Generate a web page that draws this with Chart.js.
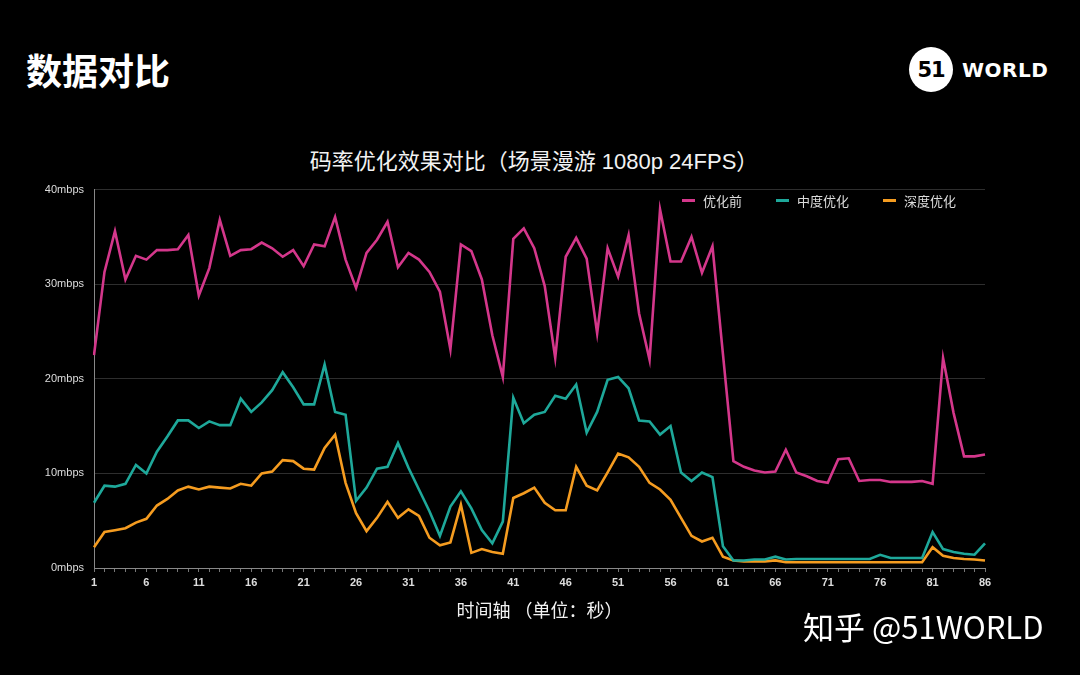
<!DOCTYPE html>
<html>
<head>
<meta charset="utf-8">
<script src="https://cdn.jsdelivr.net/npm/chart.js@4"></script>
<style>
  html, body { margin: 0; padding: 0; background: #000; }
  body { width: 1080px; height: 675px; position: relative; overflow: hidden;
         font-family: "Noto Sans CJK SC", "Noto Sans", sans-serif; color: #fff; }
  #head { position: absolute; left: 26px; top: 43px; font-size: 36px; font-weight: bold; }
  #logo { position: absolute; left: 909px; top: 47px; height: 45px; display: flex; align-items: center; }
  #logo .c { width: 44px; height: 45px; border-radius: 50%; background: #fff; color: #000;
             font-family: "DejaVu Sans"; font-weight: bold; font-size: 21px;
             display: flex; align-items: center; justify-content: center; letter-spacing: -1px; }
  #logo .w { margin-left: 9px; font-family: "DejaVu Sans"; font-weight: bold; font-size: 20px; letter-spacing: 0.5px; }
  #title { position: absolute; top: 143px; left: 0; width: 1068px; text-align: center;
           font-family: "Liberation Sans", "Noto Sans CJK SC"; font-size: 22px; color: #f2f2f2; }
  #box { position: absolute; left: 0; top: 173px; width: 1080px; height: 452px; }
  #legend { position: absolute; top: 191px; left: 682px; display: flex; font-size: 13px; color: #ddd; }
  #legend span { display: flex; align-items: center; margin-right: 34px; }
  #legend i { display: inline-block; width: 13px; height: 3px; margin-right: 8px; }
  #mark { position: absolute; left: 803px; top: 603px; font-size: 31px; color: #fff; }
</style>
</head>
<body>
<div id="head">数据对比</div>
<div id="logo"><div class="c">51</div><div class="w">WORLD</div></div>
<div id="title">码率优化效果对比（场景漫游 1080p 24FPS）</div>
<div id="box"><canvas id="myChart"></canvas></div>
<div id="legend"></div>
<div id="mark">知乎 @51WORLD</div>
<script>
const seconds = [];
for (let i = 1; i <= 86; i++) seconds.push(String(i));

const seriesNames = ['优化前', '中度优化', '深度优化'];
const seriesColors = ['#d4378b', '#1ea89a', '#f59c20'];

const before = [22.5, 31.3, 35.6, 30.5, 33.0, 32.6, 33.6, 33.6, 33.7, 35.2,
  28.8, 31.7, 36.8, 33.0, 33.6, 33.7, 34.4, 33.8, 32.9, 33.6,
  31.9, 34.2, 34.0, 37.1, 32.6, 29.6, 33.3, 34.7, 36.6, 31.8,
  33.3, 32.6, 31.3, 29.2, 23.1, 34.2, 33.5, 30.5, 24.6, 20.2,
  34.8, 35.9, 33.8, 29.8, 22.2, 32.9, 34.9, 32.7, 24.8, 33.8,
  30.8, 35.2, 26.9, 22.0, 37.9, 32.4, 32.4, 35.0, 31.2, 34.0,
  22.6, 11.3, 10.7, 10.3, 10.1, 10.2, 12.5, 10.1, 9.7, 9.2,
  9.0, 11.5, 11.6, 9.2, 9.3, 9.3, 9.1, 9.1, 9.1, 9.2,
  8.9, 22.2, 16.4, 11.8, 11.8, 12.0];

const medium = [6.9, 8.7, 8.6, 8.9, 10.9, 10.0, 12.3, 13.9, 15.6, 15.6,
  14.8, 15.5, 15.1, 15.1, 17.9, 16.5, 17.5, 18.8, 20.7, 19.1,
  17.3, 17.3, 21.5, 16.5, 16.2, 7.1, 8.5, 10.5, 10.7, 13.2,
  10.6, 8.3, 6.0, 3.4, 6.5, 8.1, 6.3, 4.0, 2.6, 4.9,
  18.0, 15.3, 16.2, 16.5, 18.2, 17.9, 19.4, 14.3, 16.5, 19.9,
  20.2, 19.0, 15.6, 15.5, 14.1, 15.0, 10.1, 9.2, 10.1, 9.6,
  2.3, 0.8, 0.8, 0.9, 0.9, 1.2, 0.9, 0.95, 0.95, 0.95,
  0.95, 0.95, 0.95, 0.95, 0.95, 1.4, 1.05, 1.05, 1.05, 1.05,
  3.8, 2.0, 1.7, 1.5, 1.4, 2.6];

const deep = [2.2, 3.8, 4.0, 4.2, 4.8, 5.2, 6.6, 7.3, 8.2, 8.6,
  8.3, 8.6, 8.5, 8.4, 8.9, 8.7, 10.0, 10.2, 11.4, 11.3,
  10.5, 10.4, 12.7, 14.1, 9.0, 5.8, 3.9, 5.3, 7.0, 5.3,
  6.2, 5.5, 3.2, 2.4, 2.7, 6.7, 1.6, 2.0, 1.7, 1.5,
  7.4, 7.9, 8.5, 6.9, 6.1, 6.1, 10.7, 8.7, 8.2, 10.1,
  12.1, 11.7, 10.7, 9.0, 8.3, 7.2, 5.3, 3.4, 2.8, 3.2,
  1.2, 0.8, 0.7, 0.7, 0.7, 0.8, 0.6, 0.6, 0.6, 0.6,
  0.6, 0.6, 0.6, 0.6, 0.6, 0.6, 0.6, 0.6, 0.6, 0.6,
  2.2, 1.3, 1.05, 0.95, 0.9, 0.8];

const yTicks = [0, 10, 20, 30, 40];

const legend = document.getElementById('legend');
seriesNames.forEach((n, k) => {
  const s = document.createElement('span');
  s.innerHTML = '<i style="background:' + seriesColors[k] + '"></i>' + n;
  legend.appendChild(s);
});

const data = {
  labels: seconds,
  datasets: [before, medium, deep].map((d, k) => ({
    label: seriesNames[k],
    data: d,
    borderColor: seriesColors[k],
    backgroundColor: seriesColors[k],
    borderWidth: 2.6,
    pointRadius: 0,
    tension: 0
  }))
};

const config = {
  type: 'line',
  data: data,
  options: {
    responsive: true,
    maintainAspectRatio: false,
    animation: false,
    layout: { padding: { left: 0, right: 95, top: 10, bottom: 0 } },
    plugins: {
      legend: { display: false },
      tooltip: { enabled: false }
    },
    scales: {
      x: {
        grid: { drawOnChartArea: false, color: '#777', tickLength: 4 },
        border: { color: '#888' },
        ticks: {
          autoSkip: false, maxRotation: 0, color: '#ddd', padding: 4,
          font: { family: '"Liberation Sans"', size: 11, weight: 'bold' },
          callback: function (v, i) { return i % 5 === 0 ? seconds[i] : ''; }
        },
        title: {
          display: true, text: '时间轴 （单位：秒）', color: '#f2f2f2',
          font: { family: '"Noto Sans CJK SC"', size: 18 }, padding: { top: 2 }
        },
        afterFit: function (s) { s.height = 57; }
      },
      y: {
        min: 0, max: 40,
        afterBuildTicks: function (s) { s.ticks = yTicks.map(v => ({ value: v })); },
        grid: { color: '#2e2e2e', drawTicks: false },
        border: { color: '#888' },
        ticks: {
          color: '#ddd', padding: 10,
          font: { family: '"Liberation Sans"', size: 11 },
          callback: function (v) { return v + 'mbps'; }
        },
        afterFit: function (s) { s.width = 94; }
      }
    }
  }
};

const myChart = new Chart(document.getElementById('myChart'), config);
</script>
</body>
</html>
